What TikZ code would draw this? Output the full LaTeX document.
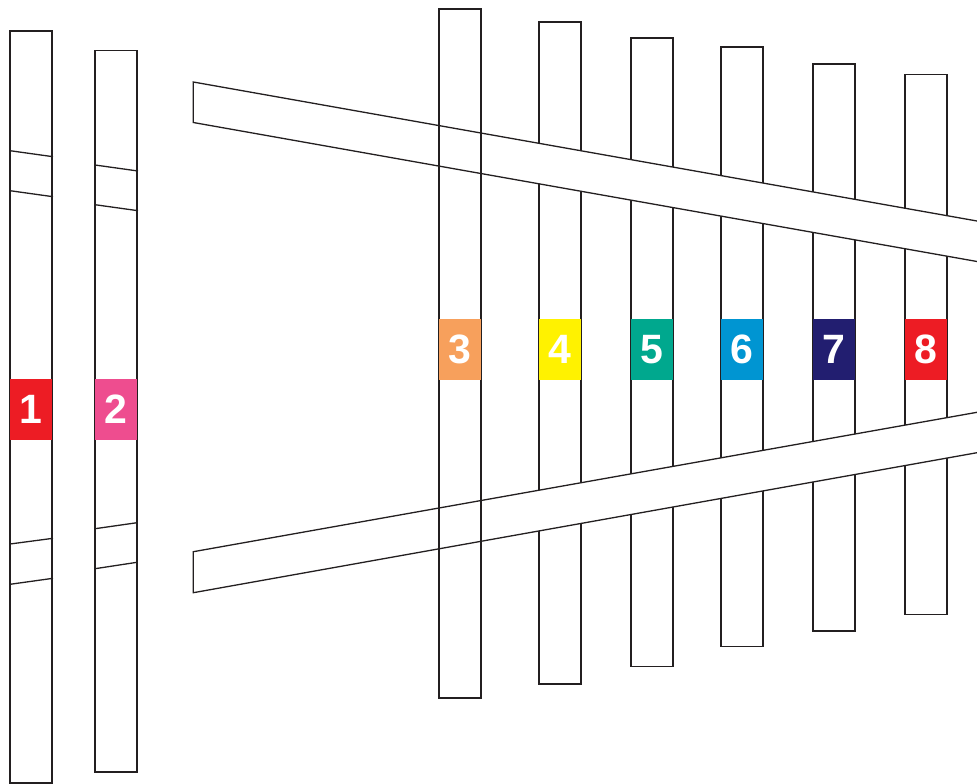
\documentclass[tikz,border=0pt]{standalone}
\usepackage{fontspec}
\setmainfont{Liberation Sans}
\definecolor{ink}{HTML}{231F20}
\definecolor{c1}{HTML}{ED1C24}
\definecolor{c2}{HTML}{EE4D8F}
\definecolor{c3}{HTML}{F7A05C}
\definecolor{c4}{HTML}{FFF200}
\definecolor{c5}{HTML}{00A88E}
\definecolor{c6}{HTML}{0095D2}
\definecolor{c7}{HTML}{221E70}
\definecolor{c8}{HTML}{ED1C24}
\tikzset{
  barbox/.style={draw=ink, line width=1.3pt, rectangle, minimum width=42pt, inner sep=0pt, outer sep=0pt},
  numtag/.style={rectangle, minimum width=42pt, minimum height=61pt, inner sep=0pt, outer sep=0pt, text=white, font=\fontsize{41}{41}\selectfont\bfseries},
  edge/.style={draw=ink, line width=1.3pt},
  band/.style={draw=ink, fill=white, line width=1.3pt, line join=miter}
}
\begin{document}
\begin{tikzpicture}[x=1pt, y=-1pt]
\useasboundingbox (0,0) rectangle (977,784);
% left bars
\node[barbox, fill=white, minimum height=752pt] (b1) at (31,407) {};
\node[barbox, fill=white, minimum height=721.5pt] (b2) at (116,411.25) {};
\draw[edge] (10,150.7) -- (53,156.7);
\draw[edge] (10,190.7) -- (53,196.7);
\draw[edge] (10,544) -- (53,538.3);
\draw[edge] (10,584.3) -- (53,578.3);
\draw[edge] (95,165) -- (138,171);
\draw[edge] (95,204.7) -- (138,210.7);
\draw[edge] (95,528.7) -- (137,522.7);
\draw[edge] (95,568.7) -- (137,562.3);
\node[numtag, fill=c1] (t1) at (31,409.5) {1};
\node[numtag, fill=c2] (t2) at (116,409.5) {2};
% bars behind the bands
\node[barbox, fill=white, minimum height=662pt] (b4) at (560,353) {};
\node[barbox, fill=white, minimum height=628.5pt] (b5) at (652,352.25) {};
\node[barbox, fill=white, minimum height=599.5pt] (b6) at (742,346.75) {};
\node[barbox, fill=white, minimum height=567pt] (b7) at (834,347.5) {};
\node[barbox, fill=white, minimum height=540pt] (b8) at (926,344.5) {};
% bands
\draw[band] (977,221) -- (193.3,82) -- (193.3,122.5) -- (977,261.5);
\draw[band] (977,412.3) -- (193.3,551.7) -- (193.3,592.7) -- (977,452.7);
% bar 3 in front, open
\node[barbox, minimum height=689pt] (b3) at (460,353.5) {};
% tags
\node[numtag, fill=c3] (t3) at (460,349.5) {3};
\node[numtag, fill=c4] (t4) at (560,349.5) {4};
\node[numtag, fill=c5] (t5) at (652,349.5) {5};
\node[numtag, fill=c6] (t6) at (742,349.5) {6};
\node[numtag, fill=c7] (t7) at (834,349.5) {7};
\node[numtag, fill=c8] (t8) at (926,349.5) {8};
\end{tikzpicture}
\end{document}
